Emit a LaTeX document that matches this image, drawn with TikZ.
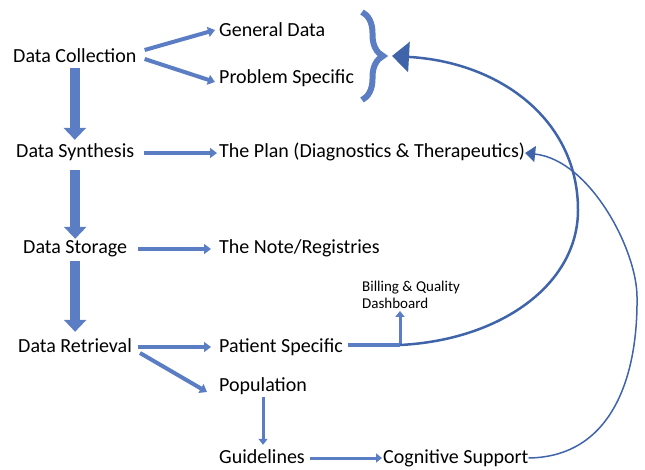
\documentclass[tikz,border=0pt]{standalone}
\usepackage{fontspec}
\setmainfont{Carlito}
\usetikzlibrary{arrows.meta,decorations.pathreplacing}
\definecolor{blockblue}{RGB}{91,125,196}
\definecolor{lineblue}{RGB}{64,100,170}
\tikzset{lbl/.style={font=\fontsize{20}{24}\selectfont, anchor=base west, inner sep=0pt, text height=14pt, text depth=4pt},
 smalllbl/.style={font=\fontsize{15}{17}\selectfont, anchor=north west, inner sep=0pt, align=left},
 bigarrow/.style={draw=blockblue, line width=10pt, -{Triangle[width=22pt,length=12pt]}},
 midarrow/.style={draw=blockblue, line width=4pt, -{Triangle[width=10pt,length=7pt]}},
 thinarrow/.style={draw=blockblue, line width=3pt, -{Triangle[width=9pt,length=6pt]}},
 loopline/.style={draw=lineblue},
 }

\begin{document}
\begin{tikzpicture}[x=1pt,y=-1pt]
        \useasboundingbox (0,0) rectangle (645,470);
        % left column
        \node[lbl] (coll) at (13,63) {Data Collection};
        \node[lbl] (synth) at (16,158) {Data Synthesis};
        \node[lbl] (stor) at (23,254) {Data Storage};
        \node[lbl] (retr) at (18,352) {Data Retrieval};

        % right column
        \node[lbl] (gen) at (219,37) {General Data};
        \node[lbl] (prob) at (219,84) {Problem Specific};
        \node[lbl] (plan) at (219,158) {The Plan (Diagnostics \& Therapeutics)};
        \node[lbl] (note) at (219,254) {The Note/Registries};
        \node[lbl] (pat) at (219,352) {Patient Specific};
        \node[lbl] (pop) at (219,391) {Population};
        \node[lbl] (guide) at (219,463) {Guidelines};
        \node[lbl] (cog) at (383,463) {Cognitive Support};
        \node[smalllbl] (bill) at (362,281) {Billing \& Quality\\Dashboard};

        \coordinate (jn) at (400,345);
        \coordinate (bracetip) at (392,56);

        % brace
        \draw[blockblue, line width=6pt, decorate, decoration={brace, amplitude=21pt}] (362,12) -- (362,100);

        % downward flow
        \draw[bigarrow] ([yshift=-1pt]coll.south) -- ([yshift=4pt]coll.south |- synth.north);
        \draw[bigarrow] ([yshift=-8pt]synth.south) -- ([yshift=1pt]synth.south |- stor.north);
        \draw[bigarrow] ([yshift=-3pt]stor.south) -- ([yshift=6pt]stor.south |- retr.north);

        \draw[midarrow] ([xshift=8pt,yshift=8pt]coll.east) -- ([xshift=-4pt,yshift=2pt]gen.west);
        \draw[midarrow] ([xshift=8pt,yshift=-1pt]coll.east) -- ([xshift=-4pt,yshift=-3pt]prob.west);
        \draw[midarrow] ([xshift=10pt]synth.east) -- ([xshift=-2pt]plan.west);
        \draw[midarrow] ([xshift=11pt]stor.east) -- ([xshift=-8pt]note.west);
        \draw[midarrow] ([xshift=6pt]retr.east) -- ([xshift=-8pt]pat.west);
        \draw[midarrow] ([xshift=8pt,yshift=-6pt]retr.east) -- ([xshift=-12pt,yshift=-6pt]pop.west);
        \draw[thinarrow] ([yshift=-2pt]pop.south) -- ([yshift=4pt]pop.south |- guide.north);
        \draw[thinarrow] ([xshift=5pt]guide.east) -- ([xshift=-1pt]cog.west);

        % feedback loops
        \draw[blockblue, line width=4pt] ([xshift=5pt,yshift=2pt]pat.east) -- (jn);
        \draw[thinarrow] (jn) -- ([yshift=-2pt]jn |- bill.south);
        \draw[loopline, line width=2.5pt, -{Triangle[width=30pt,length=17pt]}] (jn) .. controls (500,340) and (578,285) .. (578,210) .. controls (578,120) and (500,62) .. (bracetip);
        \draw[loopline, line width=1.5pt, -{Triangle[width=16pt,length=10pt]}] (cog.east) .. controls (610,457) and (638,380) .. (637,297) .. controls (637,250) and (590,160) .. (plan.east);
\end{tikzpicture}
\end{document}
